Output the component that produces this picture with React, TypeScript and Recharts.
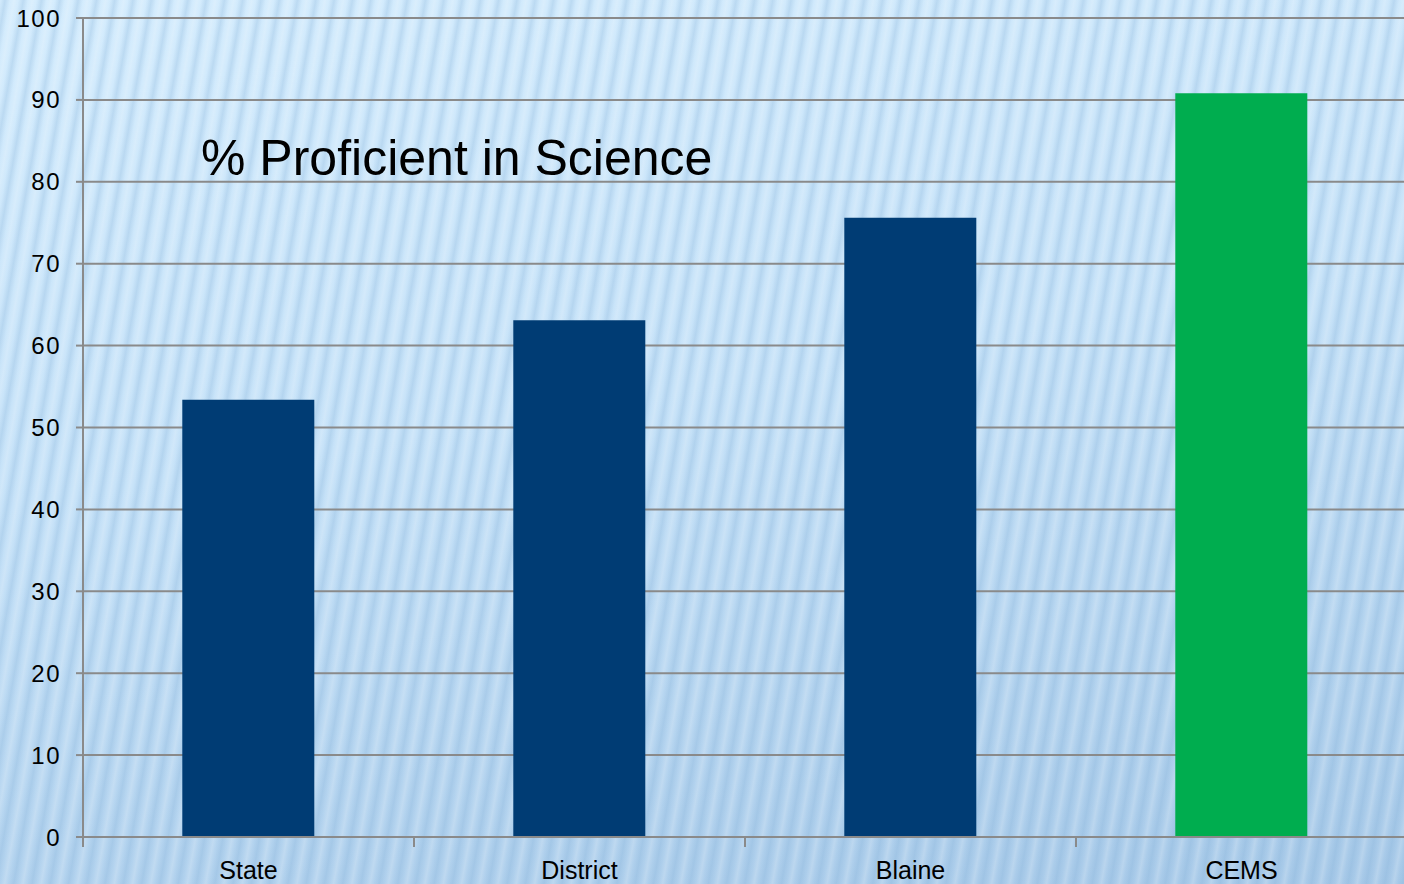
import { BarChart, Bar, XAxis, YAxis, CartesianGrid, Cell } from 'recharts';

const CATEGORIES = ['State', 'District', 'Blaine', 'CEMS'];
const PROFICIENT = [53.4, 63.1, 75.6, 90.8];
const BAR_COLORS = ['#003c74', '#003c74', '#003c74', '#00ad4f'];
const Y_TICKS = [0, 10, 20, 30, 40, 50, 60, 70, 80, 90, 100];

const chartData = CATEGORIES.map((name, i) => ({ name, value: PROFICIENT[i] }));

const AXIS_GRAY = '#8a8a8a';

const background = [
  'repeating-linear-gradient(100deg, rgba(255,255,255,0) 0px, rgba(130,175,215,0.28) 5px, rgba(255,255,255,0) 10px, rgba(255,255,255,0.18) 14px, rgba(255,255,255,0) 18px)',
  'linear-gradient(170deg, #d4ecfd 0%, #c6e2f8 45%, #a7c9e8 100%)',
].join(', ');

// category label in the middle, small tick mark on the left edge of each band
function CategoryTick(props: any) {
  const { x, y, payload, width } = props;
  const band = width / CATEGORIES.length;
  const left = x - band / 2;
  return (
    <g>
      <line x1={left} x2={left} y1={y - 1} y2={y + 8} stroke={AXIS_GRAY} strokeWidth={2} />
      <text x={x} y={y + 40} textAnchor="middle" fill="#000" fontSize={25}>
        {payload.value}
      </text>
    </g>
  );
}

export default function App() {
  return (
    <div
      style={{
        position: 'absolute',
        left: 0,
        top: 0,
        width: 1404,
        height: 884,
        overflow: 'hidden',
        background,
        fontFamily: '"Liberation Sans", Arial, sans-serif',
      }}
    >
      <BarChart
        width={1407}
        height={884}
        data={chartData}
        margin={{ top: 18, right: 0, bottom: 0, left: 0 }}
        barCategoryGap="30%"
      >
        <CartesianGrid vertical={false} stroke={AXIS_GRAY} strokeWidth={2} />
        <XAxis
          dataKey="name"
          height={47}
          axisLine={{ stroke: AXIS_GRAY, strokeWidth: 2 }}
          tickLine={false}
          tickSize={0}
          tick={<CategoryTick />}
          interval={0}
        />
        <YAxis
          width={83}
          domain={[0, 100]}
          ticks={Y_TICKS}
          axisLine={{ stroke: AXIS_GRAY, strokeWidth: 2 }}
          tickLine={{ stroke: AXIS_GRAY, strokeWidth: 2 }}
          tickSize={7}
          tickMargin={15}
          tick={{ fill: '#000', fontSize: 24, letterSpacing: 1.5 }}
        />
        <Bar dataKey="value" isAnimationActive={false}>
          {chartData.map((d, i) => (
            <Cell key={d.name} fill={BAR_COLORS[i]} />
          ))}
        </Bar>
      </BarChart>
      <div
        style={{
          position: 'absolute',
          left: 201,
          top: 129,
          fontSize: 50,
          color: '#000',
          whiteSpace: 'nowrap',
        }}
      >
        % Proficient in Science
      </div>
    </div>
  );
}
